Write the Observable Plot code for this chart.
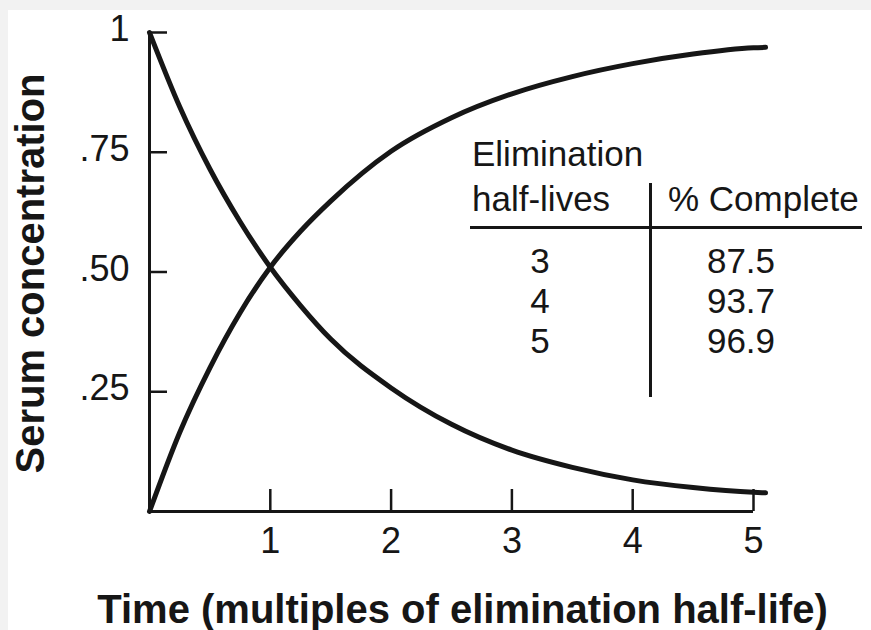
<!DOCTYPE html>
<html><head><meta charset="utf-8">
<script src="https://cdn.jsdelivr.net/npm/d3@7"></script>
<script src="https://cdn.jsdelivr.net/npm/@observablehq/plot@0.6"></script>
<style>
html,body{margin:0;padding:0;background:#f2f2f2;}
#wrap{position:relative;width:871px;height:630px;overflow:hidden;}
#panel{position:absolute;left:8px;top:10px;right:0;bottom:0;background:#fff;}
#chart{position:absolute;left:0;top:0;}
.t{position:absolute;font-family:"Liberation Sans",Arial,sans-serif;font-size:35px;color:#161616;white-space:nowrap;line-height:35px;}
.c{transform:translateX(-50%);}
.ln{position:absolute;background:#161616;}
</style></head>
<body><div id="wrap"><div id="panel"></div><div id="chart"></div><div id="table"></div></div>
<script>
// Curves
const time         = [0, 0.25, 0.5, 0.75, 1, 1.25, 1.5, 2, 2.5, 3, 3.5, 4, 4.5, 5, 5.1];
const elimination  = [1, 0.845, 0.715, 0.605, 0.51, 0.43, 0.36, 0.258, 0.182, 0.128, 0.092, 0.066, 0.05, 0.04, 0.039];
const accumulation = [0, 0.165, 0.3, 0.415, 0.51, 0.585, 0.648, 0.752, 0.822, 0.872, 0.908, 0.935, 0.955, 0.968, 0.969];

const xTicks = [1, 2, 3, 4, 5];
const yTicks = [1, 0.75, 0.5, 0.25];
const yTickLabels = ["1", ".75", ".50", ".25"];

const xTitle = "Time (multiples of elimination half-life)";
const yTitle = "Serum concentration";

// Inset table
const tableHead1 = ["Elimination", "half-lives"];
const tableHead2 = "% Complete";
const halfLives = ["3", "4", "5"];
const pctComplete = ["87.5", "93.7", "96.9"];

const rows = [];
time.forEach((t, i) => {
  rows.push({t, v: elimination[i], s: "elimination"});
  rows.push({t, v: accumulation[i], s: "accumulation"});
});

const ink = "#161616";
const chart = Plot.plot({
  width: 871, height: 630,
  marginLeft: 149, marginRight: 118, marginTop: 32, marginBottom: 119,
  style: {background: "transparent", fontFamily: "'Liberation Sans', Arial, sans-serif", color: ink, overflow: "visible"},
  x: {domain: [0, 5]},
  y: {domain: [0, 1]},
  marks: [
    Plot.ruleX([0], {y1: 0, y2: 1, stroke: ink, strokeWidth: 3}),
    Plot.ruleY([0], {x1: 0, x2: 5, stroke: ink, strokeWidth: 3}),
    Plot.axisY({ticks: yTicks, tickSize: -18, tickFormat: () => "", strokeWidth: 2.5, label: null}),
    Plot.axisY({ticks: yTicks, tickSize: 0, tickPadding: 20, tickFormat: d => yTickLabels[yTicks.indexOf(d)], fontSize: 36, dy: -3, label: null}),
    Plot.axisX({ticks: xTicks, tickSize: -22, tickFormat: () => "", strokeWidth: 2.5, label: null}),
    Plot.axisX({ticks: xTicks, tickSize: 0, tickPadding: 16, tickFormat: d => String(d), fontSize: 36, label: null}),
    Plot.line(rows, {x: "t", y: "v", z: "s", stroke: ink, strokeWidth: 5, curve: "monotone-x"}),
    Plot.text([xTitle], {frameAnchor: "bottom", textAnchor: "middle", lineAnchor: "bottom", dx: 11, dy: 111, fontSize: 40, fontWeight: "bold", fill: ink}),
    Plot.text([yTitle], {frameAnchor: "left", textAnchor: "middle", lineAnchor: "bottom", rotate: -90, dx: -106, dy: 1.5, fontSize: 40, fontWeight: "bold", fill: ink})
  ]
});
document.getElementById("chart").appendChild(chart);

// table overlay (baseline - 29 = top)
const tbl = document.getElementById("table");
function addText(txt, left, baseline, center) {
  const d = document.createElement("div");
  d.className = "t" + (center ? " c" : "");
  d.textContent = txt;
  d.style.left = left + "px";
  d.style.top = (baseline - 29) + "px";
  tbl.appendChild(d);
}
function addLine(l, t, w, h) {
  const d = document.createElement("div");
  d.className = "ln";
  Object.assign(d.style, {left: l + "px", top: t + "px", width: w + "px", height: h + "px"});
  tbl.appendChild(d);
}
addText(tableHead1[0], 472, 165, false);
addText(tableHead1[1], 472, 210, false);
addText(tableHead2, 668, 210, false);
addLine(470, 226, 392, 3);
addLine(649, 183, 2.5, 214);
const baselines = [272, 312, 352];
halfLives.forEach((h, i) => addText(h, 540, baselines[i], true));
pctComplete.forEach((p, i) => addText(p, 741, baselines[i], true));
</script>
</body></html>
